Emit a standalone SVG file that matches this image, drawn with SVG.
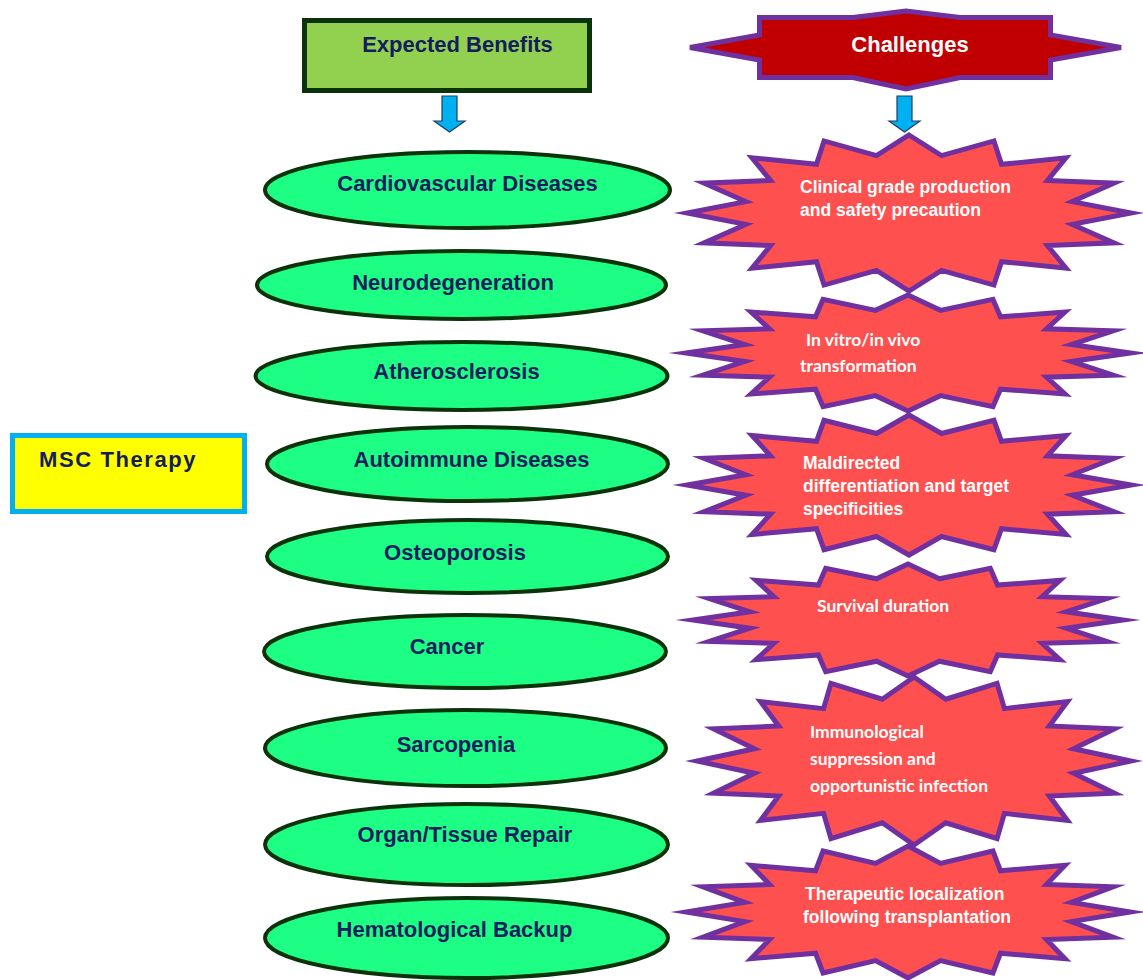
<svg xmlns="http://www.w3.org/2000/svg" xmlns:xlink="http://www.w3.org/1999/xlink" width="1143" height="980" viewBox="0 0 1143 980">
<style>
.ell{fill:#1dff84;stroke:#0b330b;stroke-width:4}
.etx{font-family:"Liberation Sans",Arial,sans-serif;font-weight:bold;font-size:22px;fill:#141d5e;text-anchor:middle}
.star{fill:#ff5050;stroke:#7030a0;stroke-width:5;stroke-linejoin:miter;stroke-miterlimit:10}
.sa{font-family:"Liberation Sans",Arial,sans-serif;font-weight:bold;font-size:17.5px;fill:#ffffff}
.sc{font-family:Lato,"Open Sans",sans-serif;font-weight:bold;font-size:17.5px;fill:#ffffff}
.arr{fill:#00b0f0;stroke:#1f3d66;stroke-width:1.2}
</style>
<defs>
<polygon id="star16" vector-effect="non-scaling-stroke" points="0,-100 14.632,-73.559 38.268,-92.388 41.668,-62.36 70.711,-70.711 62.36,-41.668 92.388,-38.268 73.559,-14.632 100,0 73.559,14.632 92.388,38.268 62.36,41.668 70.711,70.711 41.668,62.36 38.268,92.388 14.632,73.559 0,100 -14.632,73.559 -38.268,92.388 -41.668,62.36 -70.711,70.711 -62.36,41.668 -92.388,38.268 -73.559,14.632 -100,0 -73.559,-14.632 -92.388,-38.268 -62.36,-41.668 -70.711,-70.711 -41.668,-62.36 -38.268,-92.388 -14.632,-73.559"/>
</defs>
<rect width="1143" height="980" fill="#ffffff"/>

<g id="expected-benefits">
<rect x="304.5" y="20.5" width="285" height="70" fill="#92d050" stroke="#0b330b" stroke-width="5"/>
<text class="etx" x="457.5" y="52">Expected Benefits</text>
</g>

<g id="challenges">
<polygon points="759.5,17.5 853,17.5 906,11 960,17.5 1050.5,17.5 1050.5,35 1121,47.5 1050.5,60 1050.5,77.5 960,77.5 906,89 853,77.5 759.5,77.5 759.5,60 690,47.5 759.5,35" fill="#c00000" stroke="#7030a0" stroke-width="5"/>
<text x="910" y="52" font-family="Liberation Sans, Arial, sans-serif" font-weight="bold" font-size="22" fill="#ffffff" text-anchor="middle">Challenges</text>
</g>

<g id="msc-therapy">
<rect x="12.5" y="435.5" width="232" height="76" fill="#ffff00" stroke="#00b0f0" stroke-width="5"/>
<text x="39" y="467" font-family="Liberation Sans, Arial, sans-serif" font-weight="bold" font-size="22" letter-spacing="1.6" fill="#141d5e">MSC Therapy</text>
</g>

<g id="connectors">
<polygon class="arr" points="442,96 457,96 457,121 465,121 449.5,132 434,121 442,121"/>
<polygon class="arr" points="897,96 912,96 912,121 920,121 904.5,132 889,121 897,121"/>
</g>

<g id="b-cardio"><ellipse class="ell" cx="467.5" cy="190" rx="202.5" ry="38"/><text class="etx" x="467.5" y="191">Cardiovascular Diseases</text></g>
<g id="b-neuro"><ellipse class="ell" cx="461.5" cy="285" rx="204.5" ry="34"/><text class="etx" x="453" y="290">Neurodegeneration</text></g>
<g id="b-athero"><ellipse class="ell" cx="461.5" cy="376" rx="206" ry="34"/><text class="etx" x="456.5" y="379">Atherosclerosis</text></g>
<g id="b-autoimmune"><ellipse class="ell" cx="467.5" cy="464" rx="200.5" ry="37"/><text class="etx" x="471.5" y="467">Autoimmune Diseases</text></g>
<g id="b-osteo"><ellipse class="ell" cx="467.5" cy="556.5" rx="200.5" ry="36.5"/><text class="etx" x="455" y="560">Osteoporosis</text></g>
<g id="b-cancer"><ellipse class="ell" cx="465" cy="651.5" rx="201" ry="36.5"/><text class="etx" x="447" y="654">Cancer</text></g>
<g id="b-sarco"><ellipse class="ell" cx="465.5" cy="748" rx="200.5" ry="38"/><text class="etx" x="456" y="752">Sarcopenia</text></g>
<g id="b-organ"><ellipse class="ell" cx="466.5" cy="844.5" rx="201.5" ry="40.5"/><text class="etx" x="465" y="842">Organ/Tissue Repair</text></g>
<g id="b-hemato"><ellipse class="ell" cx="466.5" cy="938" rx="201.5" ry="40"/><text class="etx" x="454.5" y="937">Hematological Backup</text></g>

<g id="c-clinical">
<use xlink:href="#star16" class="star" transform="translate(909,213) scale(2.22,0.78)"/>
<text class="sa" x="800" y="193">Clinical grade production</text>
<text class="sa" x="800" y="216">and safety precaution</text>
</g>
<g id="c-invitro">
<use xlink:href="#star16" class="star" transform="translate(908,353) scale(2.22,0.58)"/>
<text class="sc" x="806" y="346">In vitro/in vivo</text>
<text class="sc" x="800" y="372">transformation</text>
</g>
<g id="c-maldirected">
<use xlink:href="#star16" class="star" transform="translate(909,485) scale(2.22,0.70)"/>
<text class="sa" x="803" y="469">Maldirected</text>
<text class="sa" x="803" y="492">differentiation and target</text>
<text class="sa" x="803" y="515">specificities</text>
</g>
<g id="c-survival">
<use xlink:href="#star16" class="star" transform="translate(908,620) scale(2.15,0.56)"/>
<text class="sc" x="817" y="612">Survival duration</text>
</g>
<g id="c-immuno">
<use xlink:href="#star16" class="star" transform="translate(914,761) scale(2.17,0.84)"/>
<text class="sc" x="810" y="738">Immunological</text>
<text class="sc" x="810" y="765">suppression and</text>
<text class="sc" x="810" y="792">opportunistic infection</text>
</g>
<g id="c-therapeutic">
<use xlink:href="#star16" class="star" transform="translate(908,912) scale(2.22,0.66)"/>
<text class="sa" x="805" y="900">Therapeutic localization</text>
<text class="sa" x="803" y="923">following transplantation</text>
</g>
</svg>
